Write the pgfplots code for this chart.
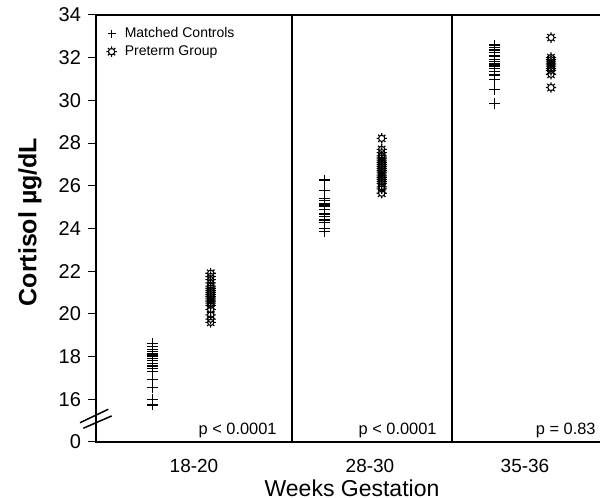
\documentclass[border=0pt]{standalone}
\usepackage{fontspec}
\setmainfont{Liberation Sans}
\usepackage{pgfplots}
\pgfplotsset{compat=1.18}

% circle with eight short spikes, like the preterm symbol
\pgfdeclareplotmark{sun}{%
  \pgfpathcircle{\pgfpointorigin}{0.6\pgfplotmarksize}%
  \foreach \a in {0,45,...,315}{%
    \pgfpathmoveto{\pgfpointpolar{\a}{0.6\pgfplotmarksize}}%
    \pgfpathlineto{\pgfpointpolar{\a}{\pgfplotmarksize}}%
  }%
  \pgfusepathqstroke
}

\begin{document}
\begin{tikzpicture}
\begin{axis}[
  name=ax,
  scale only axis,
  width=253pt, height=213.5pt,
  xmin=96, xmax=602, ymin=14, ymax=34,
  clip=false,
  axis line style={line width=0.75pt},
  xtick={194,370,525}, xticklabels={18-20,28-30,35-36},
  x tick style={draw=none},
  xticklabel style={anchor=center, yshift=-8pt, font=\fontsize{9.5}{10}\selectfont},
  ytick={14,16,...,34}, yticklabels={0,16,18,20,22,24,26,28,30,32,34},
  ytick pos=left, tick align=outside, major tick length=4pt,
  y tick style={line width=0.5pt, black},
  yticklabel style={font=\fontsize{10}{11}\selectfont},
  extra x ticks={292,452}, extra x tick labels={},
  extra x tick style={grid=major, major grid style={black, line width=0.75pt}},
  xlabel={Weeks Gestation},
  xlabel style={at={(axis cs:352,11.85)}, anchor=center, font=\fontsize{11.5}{13}\selectfont},
  ylabel={Cortisol µg/dL},
  ylabel style={at={(axis cs:30,24.3)}, anchor=center, font=\bfseries\fontsize{12.5}{14}\selectfont},
  legend style={at={(axis cs:104,33.73)}, anchor=north west, draw=none, fill=none,
    font=\fontsize{7}{8}\selectfont, row sep=-1.5pt, column sep=2pt, inner sep=1pt},
  legend cell align=left,
  legend image code/.code={\draw[#1] plot coordinates {(0.1cm,0cm)};},
  /pgf/number format/assume math mode=true,
]
% Matched Controls
\addplot[only marks, mark=+, mark size=2.7pt, mark options={line width=0.6pt}, black,
  legend image post style={mark size=2pt, mark options={line width=0.75pt}}]
  coordinates {
  (152.7,18.62) (152.7,18.46) (152.7,18.34) (152.7,18.23) (152.7,18.12) (152.7,18.03)
  (152.7,17.92) (152.7,17.81) (152.7,17.69) (152.7,17.56) (152.7,17.45) (152.7,17.29)
  (152.7,16.94) (152.7,16.56) (152.7,15.97) (152.7,15.73)
  (324.3,26.27) (324.3,25.77) (324.3,25.41) (324.3,25.30) (324.3,25.18) (324.3,25.10)
  (324.3,25.02) (324.3,24.90) (324.3,24.68) (324.3,24.55) (324.3,24.40) (324.3,24.29)
  (324.3,24.01) (324.3,23.85)
  (494.3,32.59) (494.3,32.49) (494.3,32.36) (494.3,32.23) (494.3,32.08) (494.3,31.93)
  (494.3,31.81) (494.3,31.70) (494.3,31.61) (494.3,31.50) (494.3,31.34) (494.3,31.19)
  (494.3,30.96) (494.3,30.52) (494.3,29.86)
  };
\addlegendentry{Matched Controls}
% Preterm Group
\addplot[only marks, mark=sun, mark size=2.6pt, mark options={line width=0.55pt}, black]
  coordinates {
  (210.7,21.90) (210.7,21.75) (210.7,21.60) (210.7,21.45) (210.7,21.30) (210.7,21.20)
  (210.7,21.10) (210.7,21.00) (210.7,20.90) (210.7,20.80) (210.7,20.70) (210.7,20.60)
  (210.7,20.50) (210.7,20.40) (210.7,20.20) (210.7,19.95) (210.7,19.75) (210.7,19.60)
  (381.7,28.22) (381.7,27.70) (381.7,27.55) (381.7,27.40) (381.7,27.30) (381.7,27.20)
  (381.7,27.10) (381.7,27.00) (381.7,26.90) (381.7,26.80) (381.7,26.70) (381.7,26.60)
  (381.7,26.50) (381.7,26.40) (381.7,26.30) (381.7,26.20) (381.7,26.10) (381.7,25.95)
  (381.7,25.85) (381.7,25.65)
  (551,32.94) (551,32.00) (551,31.90) (551,31.80) (551,31.70) (551,31.60)
  (551,31.50) (551,31.40) (551,31.22) (551,30.60)
  };
\addlegendentry{Preterm Group}

% axis break
\draw[line width=0.75pt] (axis cs:80,14.90) -- (axis cs:108.3,15.53);
\draw[line width=0.75pt] (axis cs:83.3,14.64) -- (axis cs:111.7,15.22);

% p-values
\node[anchor=base east, inner sep=0pt, font=\fontsize{8.2}{9}\selectfont] at (axis cs:277,14.33) {p < 0.0001};
\node[anchor=base east, inner sep=0pt, font=\fontsize{8.2}{9}\selectfont] at (axis cs:437,14.33) {p < 0.0001};
\node[anchor=base east, inner sep=0pt, font=\fontsize{8.2}{9}\selectfont] at (axis cs:596,14.33) {p = 0.83};

\coordinate (bbsw) at (axis cs:0,11.38);
\coordinate (bbne) at (axis cs:600,34.70);
\end{axis}
\pgfresetboundingbox
\useasboundingbox (bbsw) rectangle (bbne);
\end{tikzpicture}
\end{document}
